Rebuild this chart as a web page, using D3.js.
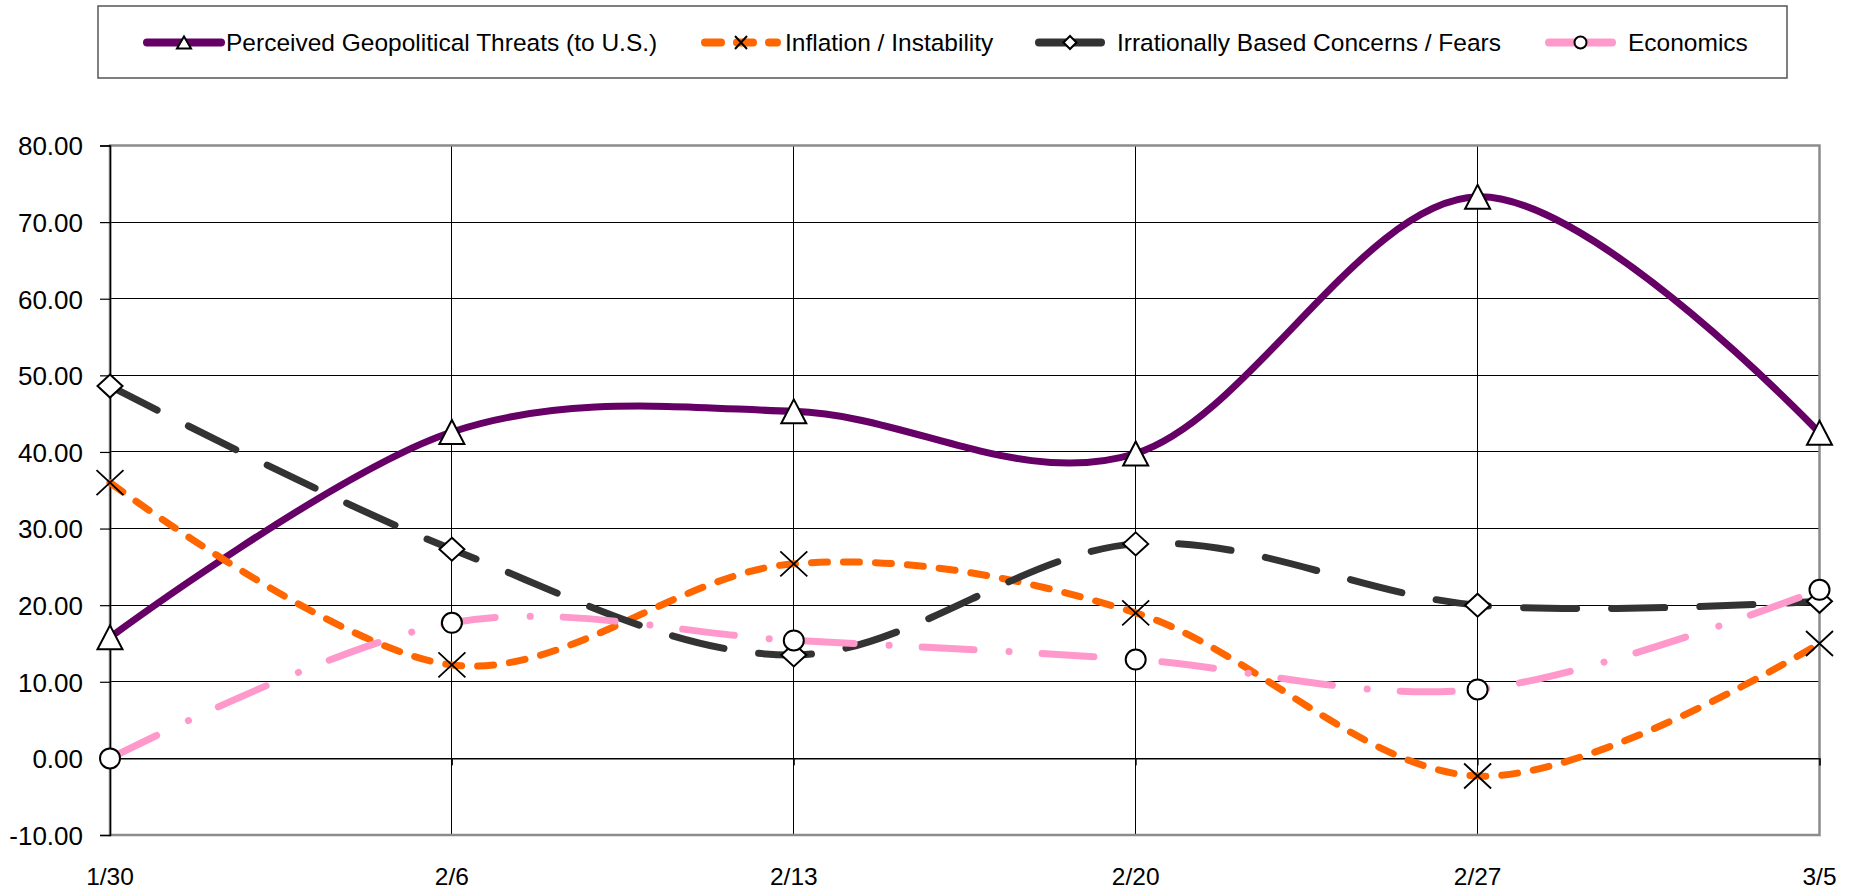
<!DOCTYPE html>
<html><head><meta charset="utf-8">
<script src="https://cdn.jsdelivr.net/npm/d3@7"></script>
<style>html,body{margin:0;padding:0;background:#fff;} svg{display:block;font-family:"Liberation Sans",Arial,sans-serif;}</style>
</head><body><svg id="c" width="1855" height="890"></svg>
<script>
// ---- data ----
const categories = ["1/30", "2/6", "2/13", "2/20", "2/27", "3/5"];
const seriesNames = ["Perceived Geopolitical Threats (to U.S.)", "Inflation / Instability", "Irrationally Based Concerns / Fears", "Economics"];
const geopolitical = [15.8, 42.6, 45.3, 39.8, 73.3, 42.5];
const inflation    = [36.0, 12.2, 25.4, 19.0, -2.3, 15.0];
const irrational   = [48.6, 27.3, 13.5, 28.0, 20.0, 20.5];
const economics    = [0.0, 17.7, 15.4, 12.9, 9.0, 22.0];
const yTicks = [-10, 0, 10, 20, 30, 40, 50, 60, 70, 80];

// ---- styles ----
const styles = [
  {color: "#660066", dash: null, marker: "triangle", legendDash: null},
  {color: "#FF6600", dash: "16,16", marker: "x", legendDash: "16,16"},
  {color: "#333333", dash: "53,35", marker: "diamond", legendDash: null},
  {color: "#FF99CC", dash: "52,35,0.1,33", marker: "circle", legendDash: null}
];
const values = [geopolitical, inflation, irrational, economics];
const series = seriesNames.map((n, i) => ({name: n, values: values[i], ...styles[i]}));

const svg = d3.select("#c");
svg.append("rect").attr("width", 1855).attr("height", 890).attr("fill", "#fff");

const pLeft = 110, pRight = 1819.5, pTop = 145.5, pBottom = 835;
const x = d3.scalePoint().domain(categories).range([pLeft, pRight]).padding(0);
const y = d3.scaleLinear().domain([-10, 80]).range([pBottom, pTop]);

// gridlines
const grid = svg.append("g");
grid.selectAll("line.h").data(yTicks.filter(t => t > -10 && t < 80)).join("line")
  .attr("x1", pLeft).attr("x2", pRight).attr("y1", d => y(d)).attr("y2", d => y(d))
  .attr("stroke", "#000").attr("stroke-width", 1).attr("shape-rendering", "crispEdges");
grid.selectAll("line.v").data(categories.slice(1, -1)).join("line")
  .attr("x1", d => x(d)).attr("x2", d => x(d)).attr("y1", pTop).attr("y2", pBottom)
  .attr("stroke", "#000").attr("stroke-width", 1).attr("shape-rendering", "crispEdges");

// plot border (gray)
svg.append("rect").attr("x", pLeft).attr("y", pTop).attr("width", pRight - pLeft).attr("height", pBottom - pTop)
  .attr("fill", "none").attr("stroke", "#8c8c8c").attr("stroke-width", 2.5);

// y axis
const yAxis = d3.axisLeft(y).tickValues(yTicks).tickSize(10).tickPadding(17).tickFormat(d => d.toFixed(2));
const ya = svg.append("g").attr("transform", `translate(${pLeft},0)`).call(yAxis);
ya.select(".domain").attr("stroke", "#000").attr("stroke-width", 1.5);
ya.selectAll(".tick line").attr("stroke", "#000").attr("stroke-width", 1.2);
ya.selectAll(".tick text").attr("font-size", 26).attr("fill", "#000")
  .attr("font-family", "Liberation Sans, Arial, sans-serif").attr("dy", "0.36em");

// x axis at y = 0 (line + ticks), labels at bottom
const xAxis = d3.axisBottom(x).tickSize(7).tickFormat("");
const xa = svg.append("g").attr("transform", `translate(0,${y(0)})`).call(xAxis);
xa.select(".domain").attr("stroke", "#000").attr("stroke-width", 1.2);
xa.selectAll(".tick line").attr("stroke", "#000");
svg.append("g").selectAll("text").data(categories).join("text")
  .attr("x", d => x(d)).attr("y", 885).attr("text-anchor", "middle")
  .attr("font-size", 24.5).attr("fill", "#000").text(d => d);

// markers
function markerPath(type, w, h) {
  if (type === "triangle") return `M0,${-h}L${w},${h}L${-w},${h}Z`;
  if (type === "diamond") return `M0,${-h}L${w},0L0,${h}L${-w},0Z`;
  if (type === "x") return `M${-w},${-h}L${w},${h}M${w},${-h}L${-w},${h}`;
  if (type === "circle") return `M${w},0A${w},${w} 0 1,1 ${-w},0A${w},${w} 0 1,1 ${w},0Z`;
}
const markerSize = {triangle: [12.5, 12], diamond: [12.5, 11.5], x: [13.5, 12.5], circle: [10, 10]};
const legendMarkerSize = {triangle: [7, 6], diamond: [6.5, 6.5], x: [6, 6.5], circle: [6, 6]};

const line = d3.line().x((d, i) => x(categories[i])).y(d => y(d)).curve(d3.curveCardinal.tension(0));

series.forEach(s => {
  const g = svg.append("g");
  g.append("path").attr("d", line(s.values)).attr("fill", "none")
    .attr("stroke", s.color).attr("stroke-width", 7)
    .attr("stroke-linecap", s.dash ? "round" : "butt")
    .attr("stroke-dasharray", s.dash);
  const [w, h] = markerSize[s.marker];
  g.selectAll("path.m").data(s.values).join("path")
    .attr("transform", (d, i) => `translate(${x(categories[i])},${y(d)})`)
    .attr("d", markerPath(s.marker, w, h))
    .attr("fill", s.marker === "x" ? "none" : "#fff")
    .attr("stroke", "#000").attr("stroke-width", s.marker === "x" ? 1.8 : 2);
});

// legend
svg.append("rect").attr("x", 98).attr("y", 6).attr("width", 1689).attr("height", 72)
  .attr("fill", "#fff").attr("stroke", "#555").attr("stroke-width", 1.5);
const legendItems = [
  {x1: 147, x2: 221, tx: 226},
  {x1: 705, x2: 777, tx: 785},
  {x1: 1039, x2: 1101, tx: 1117},
  {x1: 1549, x2: 1612, tx: 1628}
];
const ly = 42.5;
series.forEach((s, i) => {
  const it = legendItems[i];
  const g = svg.append("g");
  g.append("line").attr("x1", it.x1).attr("x2", it.x2).attr("y1", ly).attr("y2", ly)
    .attr("stroke", s.color).attr("stroke-width", 8).attr("stroke-linecap", "round")
    .attr("stroke-dasharray", s.legendDash);
  const [w, h] = legendMarkerSize[s.marker];
  g.append("path").attr("transform", `translate(${(it.x1 + it.x2) / 2},${ly})`)
    .attr("d", markerPath(s.marker, w, h))
    .attr("fill", s.marker === "x" ? "none" : "#fff")
    .attr("stroke", "#000").attr("stroke-width", 2);
  g.append("text").attr("x", it.tx).attr("y", 51).attr("font-size", 24.5).attr("fill", "#000").text(s.name);
});
</script></body></html>
